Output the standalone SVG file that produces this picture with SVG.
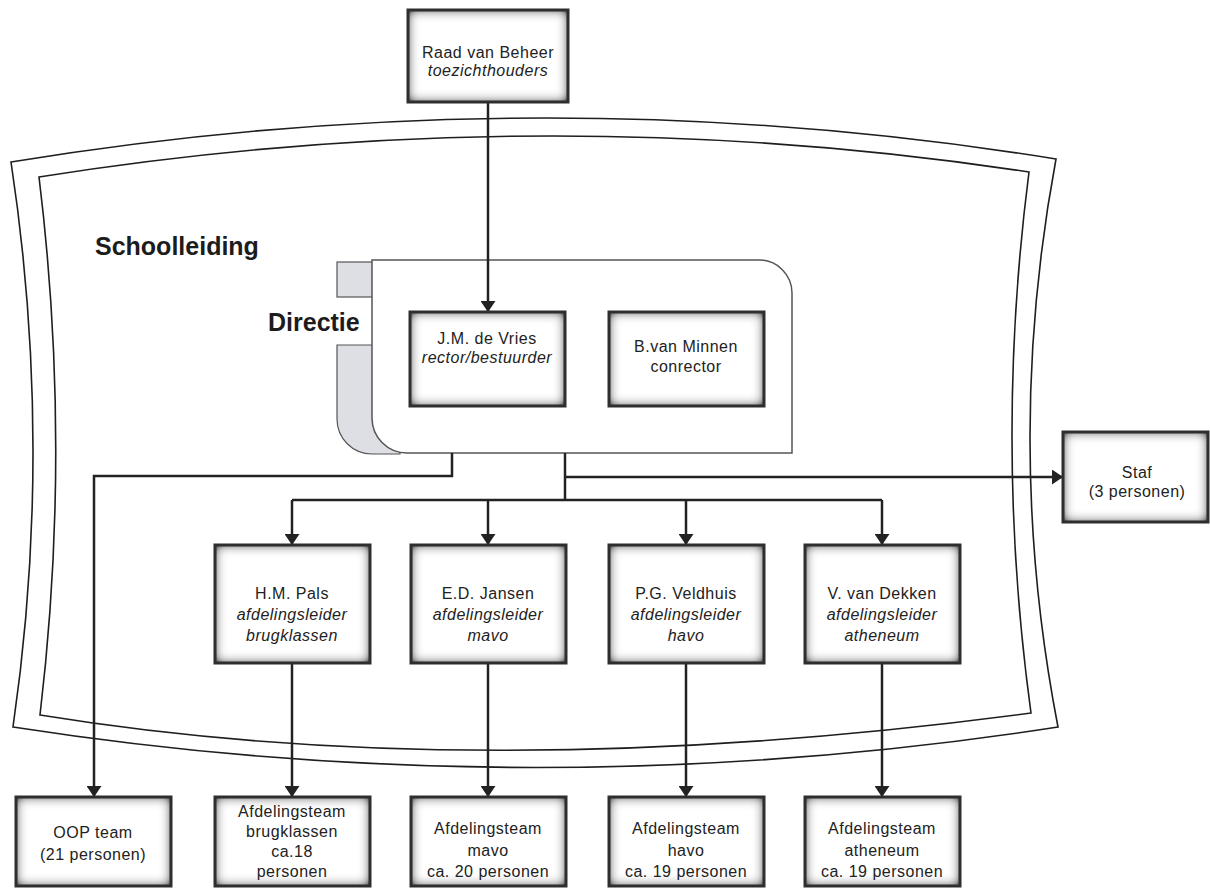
<svg xmlns="http://www.w3.org/2000/svg" width="1210" height="888" viewBox="0 0 1210 888">
<defs>
<style>
.frame{fill:none;stroke:#1e1e1e;stroke-width:1.6}
.bx{fill:#fff;filter:url(#inset)}
.bd{fill:none;stroke:#2e2e2e;stroke-width:3}
.t{font-family:"Liberation Sans",Arial,sans-serif;font-size:16px;letter-spacing:0.5px;fill:#222;text-anchor:middle}
.i{font-style:italic}
.h{font-family:"Liberation Sans",Arial,sans-serif;font-size:25px;font-weight:bold;fill:#1c1c1c}
.c{fill:none;stroke:#222;stroke-width:2.5}
.ca{fill:none;stroke:#222;stroke-width:2.5;marker-end:url(#ah)}
.tab{fill:#dedfe4;stroke:#555;stroke-width:1.2}
.dir{fill:#fff;stroke:#555;stroke-width:1.5}
</style>
<filter id="inset" x="-10%" y="-10%" width="120%" height="120%">
<feFlood flood-color="#6a6a6a" result="f"/>
<feComposite in="f" in2="SourceAlpha" operator="out" result="o"/>
<feGaussianBlur in="o" stdDeviation="6" result="b"/>
<feComponentTransfer in="b" result="b2"><feFuncA type="linear" slope="1.7"/></feComponentTransfer>
<feComposite in="b2" in2="SourceAlpha" operator="in" result="s"/>
<feMerge><feMergeNode in="SourceGraphic"/><feMergeNode in="s"/></feMerge>
</filter>
<marker id="ah" viewBox="0 0 11 15" refX="11" refY="7.5" markerWidth="11" markerHeight="15" markerUnits="userSpaceOnUse" orient="auto"><path d="M0,0 L11,7.5 L0,15 Z" fill="#222"/></marker>
</defs>
<rect width="1210" height="888" fill="#fff"/>

<g id="schoolleiding-frame">
<path class="frame" d="M11,162 Q540,75.5 1056,159 Q1003,443 1058,727 Q535,808 13,727 Q54,445 11,162 Z"/>
<path class="frame" d="M39,177 Q540,97.5 1029,172 Q994,443 1031,713 Q480,786.5 40,715 Q72,446 39,177 Z"/>
<text class="h" x="95" y="255">Schoolleiding</text>
</g>

<g id="directie">
<rect class="tab" x="337" y="262" width="45" height="35"/>
<path class="tab" d="M337,345 H400 V454 H372 A35,35 0 0 1 337,419 Z"/>
<path class="dir" d="M372,260 H759 A33,33 0 0 1 792,293 V453 H407 A35,35 0 0 1 372,418 Z"/>
<text class="h" x="268" y="331">Directie</text>
</g>

<g id="connectors">
<path class="ca" d="M488,102 V312"/>
<path class="ca" d="M452,453 V476 H94 V797"/>
<path class="c" d="M565,453 V500"/>
<path class="ca" d="M565,477 H1063"/>
<path class="c" d="M292,500 H882"/>
<path class="ca" d="M292,500 V545"/>
<path class="ca" d="M488,500 V545"/>
<path class="ca" d="M686,500 V545"/>
<path class="ca" d="M882,500 V545"/>
<path class="ca" d="M292,663 V797"/>
<path class="ca" d="M488,663 V797"/>
<path class="ca" d="M686,663 V797"/>
<path class="ca" d="M882,663 V797"/>
</g>

<g id="raad">
<rect class="bx" x="408" y="10" width="160" height="92"/>
<rect class="bd" x="408" y="10" width="160" height="92"/>
<text class="t" x="488" y="58">Raad van Beheer</text>
<text class="t i" x="488" y="76">toezichthouders</text>
</g>

<g id="devries">
<rect class="bx" x="410" y="312" width="155" height="94"/>
<rect class="bd" x="410" y="312" width="155" height="94"/>
<text class="t" x="487" y="344">J.M. de Vries</text>
<text class="t i" x="487" y="363">rector/bestuurder</text>
</g>

<g id="vanminnen">
<rect class="bx" x="609" y="312" width="155" height="94"/>
<rect class="bd" x="609" y="312" width="155" height="94"/>
<text class="t" x="686" y="352">B.van Minnen</text>
<text class="t" x="686" y="372">conrector</text>
</g>

<g id="staf">
<rect class="bx" x="1063" y="432" width="145" height="90"/>
<rect class="bd" x="1063" y="432" width="145" height="90"/>
<text class="t" x="1137" y="478">Staf</text>
<text class="t" x="1137" y="497">(3 personen)</text>
</g>

<g id="pals">
<rect class="bx" x="215" y="545" width="155" height="118"/>
<rect class="bd" x="215" y="545" width="155" height="118"/>
<text class="t" x="292" y="599">H.M. Pals</text>
<text class="t i" x="292" y="620">afdelingsleider</text>
<text class="t i" x="292" y="641">brugklassen</text>
</g>

<g id="jansen">
<rect class="bx" x="411" y="545" width="155" height="118"/>
<rect class="bd" x="411" y="545" width="155" height="118"/>
<text class="t" x="488" y="599">E.D. Jansen</text>
<text class="t i" x="488" y="620">afdelingsleider</text>
<text class="t i" x="488" y="641">mavo</text>
</g>

<g id="veldhuis">
<rect class="bx" x="609" y="545" width="155" height="118"/>
<rect class="bd" x="609" y="545" width="155" height="118"/>
<text class="t" x="686" y="599">P.G. Veldhuis</text>
<text class="t i" x="686" y="620">afdelingsleider</text>
<text class="t i" x="686" y="641">havo</text>
</g>

<g id="vandekken">
<rect class="bx" x="805" y="545" width="155" height="118"/>
<rect class="bd" x="805" y="545" width="155" height="118"/>
<text class="t" x="882" y="599">V. van Dekken</text>
<text class="t i" x="882" y="620">afdelingsleider</text>
<text class="t i" x="882" y="641">atheneum</text>
</g>

<g id="oop">
<rect class="bx" x="16" y="797" width="155" height="89"/>
<rect class="bd" x="16" y="797" width="155" height="89"/>
<text class="t" x="93" y="838">OOP team</text>
<text class="t" x="93" y="860">(21 personen)</text>
</g>

<g id="team-brugklassen">
<rect class="bx" x="215" y="797" width="155" height="89"/>
<rect class="bd" x="215" y="797" width="155" height="89"/>
<text class="t" x="292" y="817">Afdelingsteam</text>
<text class="t" x="292" y="837">brugklassen</text>
<text class="t" x="292" y="857">ca.18</text>
<text class="t" x="292" y="877">personen</text>
</g>

<g id="team-mavo">
<rect class="bx" x="411" y="797" width="155" height="89"/>
<rect class="bd" x="411" y="797" width="155" height="89"/>
<text class="t" x="488" y="834">Afdelingsteam</text>
<text class="t" x="488" y="856">mavo</text>
<text class="t" x="488" y="877">ca. 20 personen</text>
</g>

<g id="team-havo">
<rect class="bx" x="609" y="797" width="155" height="89"/>
<rect class="bd" x="609" y="797" width="155" height="89"/>
<text class="t" x="686" y="834">Afdelingsteam</text>
<text class="t" x="686" y="856">havo</text>
<text class="t" x="686" y="877">ca. 19 personen</text>
</g>

<g id="team-atheneum">
<rect class="bx" x="805" y="797" width="155" height="89"/>
<rect class="bd" x="805" y="797" width="155" height="89"/>
<text class="t" x="882" y="834">Afdelingsteam</text>
<text class="t" x="882" y="856">atheneum</text>
<text class="t" x="882" y="877">ca. 19 personen</text>
</g>
</svg>
